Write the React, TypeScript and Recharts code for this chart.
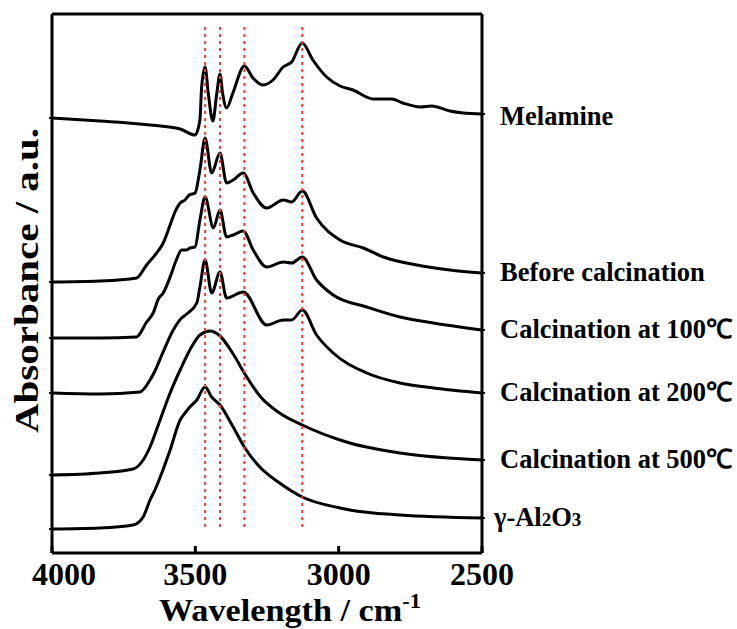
import { LineChart, Line, XAxis, YAxis, ReferenceLine, Label } from "recharts";

// wavenumber (cm-1), stacked absorbance (arbitrary, offset per trace)
const melamine: [number, number][] = [
  [4000, 435], [3833, 432], [3658, 428], [3553, 424], [3501, 418], [3484, 433],
  [3478, 466], [3466, 486], [3455, 460], [3439, 432], [3425, 460], [3414, 479],
  [3405, 460], [3391, 445], [3369, 460], [3329, 487], [3299, 475], [3264, 468],
  [3229, 473], [3194, 486], [3164, 491], [3127, 510], [3090, 493], [3042, 476],
  [2995, 467], [2950, 463], [2880, 454], [2815, 454], [2776, 450], [2716, 446],
  [2676, 447], [2612, 442], [2566, 440], [2500, 439],
];

const beforeCalc: [number, number][] = [
  [4000, 271], [3833, 272], [3705, 275], [3670, 288], [3635, 300], [3612, 310],
  [3588, 328], [3571, 341], [3553, 350], [3536, 353], [3521, 358], [3501, 360],
  [3484, 383], [3466, 415], [3443, 380], [3414, 400], [3391, 370], [3368, 373],
  [3333, 380], [3298, 360], [3251, 345], [3193, 353], [3164, 351], [3127, 362],
  [3077, 335], [2995, 313], [2914, 305], [2844, 296], [2728, 288], [2612, 283],
  [2500, 280],
];

const calc100: [number, number][] = [
  [4000, 215], [3833, 215], [3705, 216], [3670, 231], [3647, 240], [3629, 254],
  [3612, 260], [3588, 276], [3565, 294], [3548, 303], [3530, 303], [3519, 305],
  [3501, 306], [3484, 333], [3466, 356], [3437, 325], [3414, 343], [3391, 316],
  [3368, 318], [3333, 322], [3298, 303], [3251, 286], [3193, 291], [3164, 290],
  [3127, 296], [3077, 273], [3019, 258], [2902, 246], [2786, 236], [2670, 230],
  [2500, 223],
];

const calc200: [number, number][] = [
  [4000, 160], [3833, 159], [3693, 161], [3658, 173], [3641, 182], [3617, 198],
  [3577, 223], [3548, 235], [3530, 239], [3495, 250], [3484, 266], [3466, 293],
  [3443, 260], [3414, 281], [3391, 255], [3333, 261], [3251, 228], [3193, 233],
  [3164, 233], [3127, 243], [3077, 218], [3019, 200], [2902, 180], [2786, 170],
  [2670, 165], [2500, 160],
];

const calc500: [number, number][] = [
  [4000, 78], [3833, 80], [3717, 84], [3682, 93], [3658, 106], [3623, 133],
  [3588, 160], [3553, 183], [3519, 203], [3484, 218], [3449, 222], [3414, 217],
  [3368, 199], [3327, 179], [3275, 157], [3206, 140], [3127, 128], [2995, 113],
  [2961, 110], [2786, 100], [2500, 93],
];

const alumina: [number, number][] = [
  [4000, 24], [3833, 25], [3717, 28], [3682, 36], [3658, 53], [3641, 63],
  [3617, 80], [3588, 103], [3553, 133], [3536, 140], [3519, 146], [3495, 153],
  [3466, 166], [3443, 156], [3414, 148], [3368, 126], [3327, 105], [3275, 86],
  [3206, 70], [3127, 56], [2995, 45], [2961, 43], [2786, 38], [2500, 35],
];

const seriesNames = [
  "Melamine",
  "Before calcination",
  "Calcination at 100℃",
  "Calcination at 200℃",
  "Calcination at 500℃",
  "γ-Al2O3",
];
const seriesPoints = [melamine, beforeCalc, calc100, calc200, calc500, alumina];

const peakPositions = [3466, 3414, 3329, 3127];
const peakLineSpan = [26, 526];
const xTicks = [4000, 3500, 3000, 2500];
const yDomain = [0, 539];

const FONT = '"Times New Roman", "Liberation Serif", serif';

const series = seriesNames.map((name, i) => ({
  name,
  data: seriesPoints[i].map(([w, a]) => ({ w, a })),
  start: seriesPoints[i][0][1],
  end: seriesPoints[i][seriesPoints[i].length - 1][1],
}));

function XTick(props: any) {
  const { x, y, payload } = props;
  const shift = payload.value === xTicks[0] ? 12 : 0;
  return (
    <text x={x + shift} y={y} dy={20} textAnchor="middle" fontFamily={FONT} fontWeight="bold" fontSize={32} fill="#000">
      {payload.value}
    </text>
  );
}

function SeriesTick(props: any) {
  const { x, y, payload } = props;
  const s = series.find((d) => d.end === payload.value);
  if (!s) return <g />;
  const isFormula = s.name.startsWith("γ");
  const parts = isFormula ? s.name.split(/(\d)/) : [s.name];
  return (
    <text x={isFormula ? x - 6 : x} y={y} dy={s.name === "Melamine" ? 11 : 8} textAnchor="start" fontFamily={FONT} fontWeight="bold" fontSize={26.5} fill="#000">
      {parts.map((p, i) =>
        /^\d$/.test(p) ? (
          <tspan key={i} fontSize={19}>{p}</tspan>
        ) : (
          <tspan key={i}>{p}</tspan>
        )
      )}
    </text>
  );
}

function XTitle(props: any) {
  const { viewBox } = props;
  const cx = viewBox.x + viewBox.width / 2 + 23;
  return (
    <text x={cx} y={viewBox.y + 68} textAnchor="middle" fontFamily={FONT} fontWeight="bold" fontSize={32} textLength={262} lengthAdjust="spacingAndGlyphs" fill="#000">
      Wavelength / cm<tspan fontSize={21} dy={-13}>-1</tspan>
    </text>
  );
}

function YTitle(props: any) {
  const { viewBox } = props;
  const cx = viewBox.x + viewBox.width - 26;
  const cy = viewBox.y + viewBox.height / 2 - 3;
  return (
    <text
      x={cx}
      y={cy}
      transform={`rotate(-90 ${cx} ${cy})`}
      textAnchor="middle"
      dominantBaseline="central"
      textLength={305}
      lengthAdjust="spacingAndGlyphs"
      fontFamily={FONT}
      fontWeight="bold"
      fontSize={34}
      fill="#000"
    >
      Absorbance / a.u.
    </text>
  );
}

export default function App() {
  return (
    <div style={{ position: "absolute", left: 0, top: 0, background: "#fff" }}>
      <LineChart width={737} height={629} margin={{ top: 13, right: 254, bottom: 16, left: 51 }}>
        <XAxis
          dataKey="w"
          type="number"
          domain={[2500, 4000]}
          reversed
          ticks={xTicks}
          allowDataOverflow
          height={60}
          interval={0}
          tickSize={-7}
          tickMargin={19}
          tick={<XTick />}
          tickLine={{ stroke: "#000", strokeWidth: 3 }}
          axisLine={{ stroke: "#000", strokeWidth: 3 }}
        >
          <Label content={<XTitle />} />
        </XAxis>
        <XAxis
          xAxisId="top"
          orientation="top"
          dataKey="w"
          type="number"
          domain={[2500, 4000]}
          reversed
          height={1}
          ticks={xTicks}
          tick={false}
          tickLine={false}
          axisLine={{ stroke: "#000", strokeWidth: 3 }}
        />
        <YAxis
          type="number"
          domain={yDomain}
          width={1}
          ticks={series.map((s) => s.start)}
          interval={0}
          tickSize={3}
          tick={<g />}
          tickLine={{ stroke: "#000", strokeWidth: 2 }}
          axisLine={{ stroke: "#000", strokeWidth: 3 }}
          allowDataOverflow
        >
          <Label content={<YTitle />} />
        </YAxis>
        <YAxis
          yAxisId="right"
          orientation="right"
          type="number"
          domain={yDomain}
          width={1}
          ticks={series.map((s) => s.end)}
          interval={0}
          tickSize={3}
          tickMargin={15}
          tick={<SeriesTick />}
          tickLine={{ stroke: "#000", strokeWidth: 2 }}
          axisLine={{ stroke: "#000", strokeWidth: 3 }}
          allowDataOverflow
        />
        {series.map((s) => (
          <Line
            key={s.name}
            data={s.data}
            dataKey="a"
            name={s.name}
            type="monotone"
            stroke="#000"
            strokeWidth={3}
            dot={false}
            isAnimationActive={false}
          />
        ))}
        {peakPositions.map((w) => (
          <ReferenceLine
            key={w}
            segment={[{ x: w, y: peakLineSpan[0] }, { x: w, y: peakLineSpan[1] }]}
            stroke="#ff3333"
            strokeWidth={2}
            strokeDasharray="3 4"
          />
        ))}
      </LineChart>
    </div>
  );
}
